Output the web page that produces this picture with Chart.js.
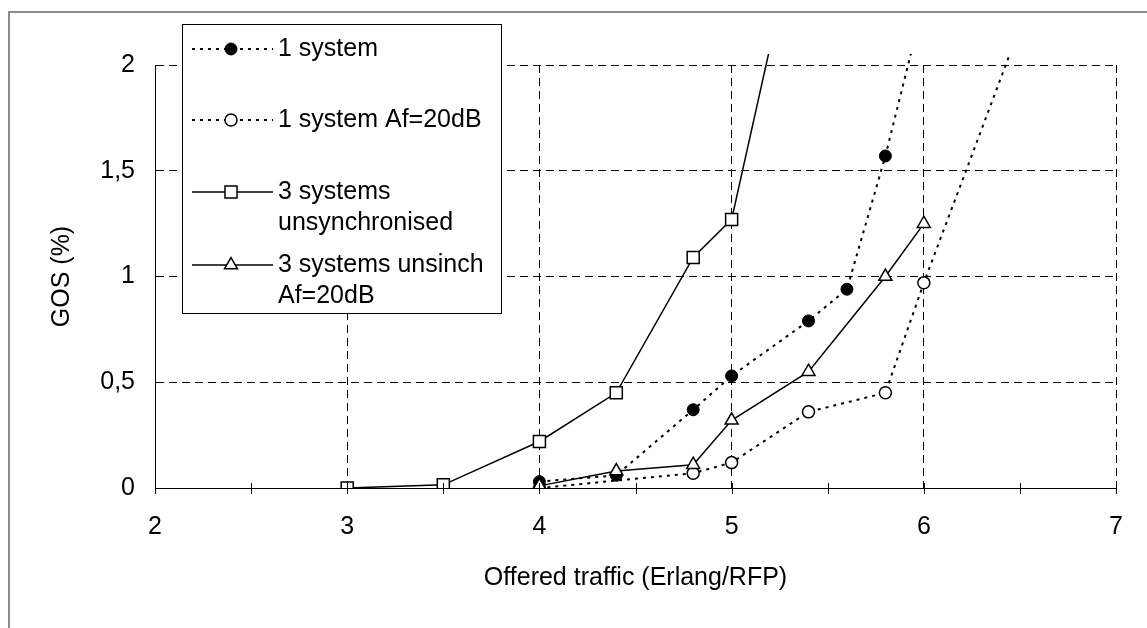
<!DOCTYPE html>
<html>
<head>
<meta charset="utf-8">
<script src="https://cdn.jsdelivr.net/npm/chart.js@4"></script>
<style>
	html, body { margin: 0; padding: 0; background: #fff; overflow: hidden; }
	#wrap { position: relative; width: 1147px; height: 628px; overflow: hidden; }
	#frame { position: absolute; left: 8px; top: 11px; width: 1200px; height: 700px; border: 2px solid #8c8c8c; }
	canvas { position: absolute; left: 0; top: 0; }
</style>
</head>
<body>
<div id="wrap">
	<div id="frame"></div>
	<canvas id="gosChart" width="1147" height="628"></canvas>
</div>
<script>
"use strict"

// values (x = offered traffic, y = GOS %)
const sys1X = [4, 4.4, 4.8, 5, 5.4, 5.6, 5.8, 6]
const sys1Y = [0.03, 0.06, 0.37, 0.53, 0.79, 0.94, 1.57, 2.3]
const sys1AfX = [4, 4.8, 5, 5.4, 5.8, 6, 6.6]
const sys1AfY = [0, 0.07, 0.12, 0.36, 0.45, 0.97, 2.42]
const sys3X = [3, 3.5, 4, 4.4, 4.8, 5, 5.4]
const sys3Y = [0, 0.015, 0.22, 0.45, 1.09, 1.27, 2.9]
const sys3AfX = [4, 4.4, 4.8, 5, 5.4, 5.8, 6]
const sys3AfY = [0.01, 0.08, 0.11, 0.32, 0.55, 1.0, 1.25]

const seriesNames = [["1 system"], ["1 system Af=20dB"], ["3 systems", "unsynchronised"], ["3 systems unsinch", "Af=20dB"]]
const xTicks = [2, 3, 4, 5, 6, 7]
const xMinorTicks = [2, 2.5, 3, 3.5, 4, 4.5, 5, 5.5, 6, 6.5, 7]
const yTicks = [0, 0.5, 1, 1.5, 2]

const FONT = "Liberation Sans, Arial, sans-serif"
const toPoints = (xs, ys) => xs.map((x, i) => ({ x: x, y: ys[i] }))

// legend box drawn by hand (Excel style, sits inside the plot)
const legendBox = { left: 182, top: 24, right: 501, bottom: 313 }
const legendRows = [49, 120, 192, 265]

function drawMarker(ctx, ds, x, y) {
	const r = ds.pointRadius
	ctx.save()
	ctx.setLineDash([])
	ctx.lineWidth = ds.pointBorderWidth
	ctx.strokeStyle = ds.pointBorderColor
	ctx.fillStyle = ds.pointBackgroundColor
	ctx.beginPath()
	if (ds.pointStyle === "rect") {
		const s = r * Math.SQRT1_2
		ctx.rect(x - s, y - s, 2 * s, 2 * s)
	} else if (ds.pointStyle === "triangle") {
		let a = 0
		ctx.moveTo(x + Math.sin(a) * r, y - Math.cos(a) * r)
		a += Math.PI * 2 / 3
		ctx.lineTo(x + Math.sin(a) * r, y - Math.cos(a) * r)
		a += Math.PI * 2 / 3
		ctx.lineTo(x + Math.sin(a) * r, y - Math.cos(a) * r)
		ctx.closePath()
	} else {
		ctx.arc(x, y, r, 0, Math.PI * 2)
	}
	ctx.fill()
	ctx.stroke()
	ctx.restore()
}

const excelLegend = {
	id: "excelLegend",
	afterDraw(chart) {
		const ctx = chart.ctx
		ctx.save()
		ctx.fillStyle = "#fff"
		ctx.fillRect(legendBox.left, legendBox.top, legendBox.right - legendBox.left, legendBox.bottom - legendBox.top)
		ctx.strokeStyle = "#000"
		ctx.lineWidth = 1
		ctx.strokeRect(legendBox.left + 0.5, legendBox.top + 0.5, legendBox.right - legendBox.left, legendBox.bottom - legendBox.top)

		chart.data.datasets.forEach((ds, i) => {
			const y = legendRows[i]
			ctx.save()
			ctx.strokeStyle = ds.borderColor
			ctx.lineWidth = ds.borderWidth
			ctx.setLineDash(ds.borderDash || [])
			ctx.beginPath()
			ctx.moveTo(192, y)
			ctx.lineTo(273, y)
			ctx.stroke()
			ctx.restore()
			drawMarker(ctx, ds, 231, y)

			ctx.fillStyle = "#000"
			ctx.font = "25px " + FONT
			ctx.textBaseline = "middle"
			ctx.textAlign = "left"
			seriesNames[i].forEach((line, j) => {
				ctx.fillText(line, 278, y + j * 31)
			})
		})
		ctx.restore()
	},
}

// small tick marks crossing the x axis every 0.5
const crossTicks = {
	id: "crossTicks",
	afterDraw(chart) {
		const ctx = chart.ctx
		const xScale = chart.scales.x
		const yAxis = chart.scales.y.getPixelForValue(0)
		ctx.save()
		ctx.strokeStyle = "#000"
		ctx.lineWidth = 1
		xMinorTicks.forEach((v) => {
			const px = Math.round(xScale.getPixelForValue(v)) + 0.5
			ctx.beginPath()
			ctx.moveTo(px, yAxis - 5)
			ctx.lineTo(px, yAxis + 6)
			ctx.stroke()
		})
		ctx.restore()
	},
}

const dottedLine = [3, 5]
const clipTop = { left: 0, top: 11, right: 0, bottom: 0 }

let ctx = document.getElementById("gosChart").getContext("2d")

let chart = new Chart(ctx, {
	type: "line",
	data: {
		datasets: [
			{
				label: seriesNames[0].join(" "),
				data: toPoints(sys1X, sys1Y),
				borderColor: "#000",
				borderWidth: 2,
				borderDash: dottedLine,
				pointStyle: "circle",
				pointRadius: 6,
				pointBackgroundColor: "#000",
				pointBorderColor: "#000",
				pointBorderWidth: 1,
				clip: clipTop,
				order: 4,
			},
			{
				label: seriesNames[1].join(" "),
				data: toPoints(sys1AfX, sys1AfY),
				borderColor: "#000",
				borderWidth: 2,
				borderDash: dottedLine,
				pointStyle: "circle",
				pointRadius: 6,
				pointBackgroundColor: "#fff",
				pointBorderColor: "#000",
				pointBorderWidth: 1.5,
				clip: clipTop,
				order: 3,
			},
			{
				label: seriesNames[2].join(" "),
				data: toPoints(sys3X, sys3Y),
				borderColor: "#000",
				borderWidth: 1.5,
				borderDash: [],
				pointStyle: "rect",
				pointRadius: 8.5,
				pointBackgroundColor: "#fff",
				pointBorderColor: "#000",
				pointBorderWidth: 1.5,
				clip: clipTop,
				order: 2,
			},
			{
				label: seriesNames[3].join(" "),
				data: toPoints(sys3AfX, sys3AfY),
				borderColor: "#000",
				borderWidth: 1.5,
				borderDash: [],
				pointStyle: "triangle",
				pointRadius: 7.5,
				pointBackgroundColor: "#fff",
				pointBorderColor: "#000",
				pointBorderWidth: 1.5,
				clip: clipTop,
				order: 1,
			},
		],
	},
	options: {
		responsive: false,
		animation: false,
		devicePixelRatio: 1,
		layout: {
			padding: { top: 65, right: 23, bottom: 0, left: 0 },
		},
		elements: {
			line: { tension: 0 },
		},
		plugins: {
			legend: { display: false },
			tooltip: { enabled: false },
		},
		scales: {
			x: {
				type: "linear",
				min: 2,
				max: 7,
				afterBuildTicks: (scale) => {
					scale.ticks = xTicks.map((v) => ({ value: v }))
				},
				afterFit: (scale) => {
					scale.height = 140
				},
				ticks: {
					color: "#000",
					padding: 24,
					maxRotation: 0,
					font: { family: FONT, size: 25 },
					callback: (value) => String(value),
				},
				grid: {
					color: "#000",
					lineWidth: 1,
					drawTicks: false,
				},
				border: {
					color: "#000",
					width: 1,
					dash: [8, 5],
				},
				title: {
					display: true,
					text: "Offered traffic (Erlang/RFP)",
					color: "#000",
					font: { family: FONT, size: 25 },
					padding: { top: 0, bottom: 35 },
				},
			},
			y: {
				min: 0,
				max: 2,
				afterBuildTicks: (scale) => {
					scale.ticks = yTicks.map((v) => ({ value: v }))
				},
				afterFit: (scale) => {
					scale.width = 155
				},
				ticks: {
					color: "#000",
					padding: 20,
					font: { family: FONT, size: 25 },
					callback: (value) => String(value).replace(".", ","),
				},
				grid: {
					color: "#000",
					lineWidth: 1,
					drawTicks: false,
				},
				border: {
					color: "#000",
					width: 1,
					dash: [8, 5],
				},
				title: {
					display: true,
					text: "GOS (%)",
					color: "#000",
					font: { family: FONT, size: 25 },
					padding: { top: 47, bottom: 0 },
				},
			},
		},
	},
	plugins: [crossTicks, excelLegend],
})
</script>
</body>
</html>
